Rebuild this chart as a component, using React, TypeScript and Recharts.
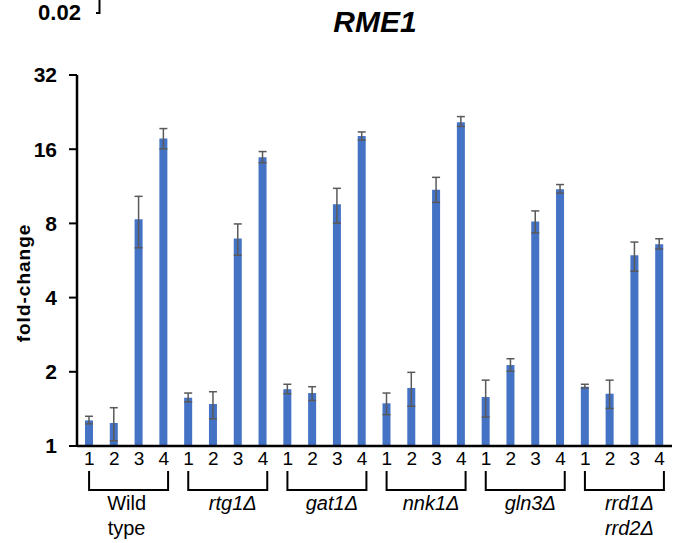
import React from "react";
import { BarChart, Bar, XAxis, YAxis, ErrorBar } from "recharts";

// strains, each measured at 4 time points
const strains = ["Wild type", "rtg1Δ", "gat1Δ", "nnk1Δ", "gln3Δ", "rrd1Δ rrd2Δ"];
const strainLines: string[][] = [
  ["Wild", "type"],
  ["rtg1Δ"],
  ["gat1Δ"],
  ["nnk1Δ"],
  ["gln3Δ"],
  ["rrd1Δ", "rrd2Δ"],
];
const strainItalic = [false, true, true, true, true, true];
const timepoints = ["1", "2", "3", "4"];

// RME1 fold-change (mean)
const foldChange = [
  1.27, 1.24, 8.32, 17.7,
  1.57, 1.48, 6.95, 14.85,
  1.7, 1.64, 9.56, 18.1,
  1.49, 1.72, 10.96, 20.6,
  1.58, 2.13, 8.14, 11.0,
  1.74, 1.63, 5.94, 6.59,
];
// error bar extent below / above the mean
const errLow = [
  0.04, 0.19, 1.95, 1.65,
  0.06, 0.19, 1.01, 0.75,
  0.07, 0.11, 1.54, 0.7,
  0.15, 0.27, 1.22, 0.8,
  0.27, 0.12, 0.82, 0.4,
  0.02, 0.21, 0.82, 0.29,
];
const errHigh = [
  0.05, 0.19, 1.98, 1.7,
  0.07, 0.18, 1.01, 0.8,
  0.08, 0.1, 1.54, 0.7,
  0.15, 0.27, 1.34, 1.1,
  0.27, 0.13, 0.85, 0.5,
  0.04, 0.22, 0.78, 0.34,
];
const yTicks = [1, 2, 4, 8, 16, 32];

const FONT = "Arial, 'Liberation Sans', sans-serif";

const data = foldChange.map((v, i) => ({
  id: i,
  strain: strains[Math.floor(i / 4)],
  tp: timepoints[i % 4],
  value: v,
  err: [errLow[i], errHigh[i]],
}));

function TimeTick(props: any) {
  const { x, y, payload } = props;
  const row = data[payload.value];
  return (
    <text x={x} y={y + 19} textAnchor="middle" fontSize={19} fill="#000" fontFamily={FONT}>
      {row ? row.tp : ""}
    </text>
  );
}

function StrainTick(props: any) {
  const { x, y, payload } = props;
  const idx = strains.indexOf(payload.value);
  if (idx < 0) return null;
  const lines = strainLines[idx];
  const italic = strainItalic[idx];
  const shift = italic ? 7 : 0;
  return (
    <g>
      <path
        d={`M${x - 37.5},${y + 3} V${y + 22} H${x + 41.5} V${y + 3}`}
        stroke="#000"
        strokeWidth={2}
        fill="none"
      />
      {lines.map((t, k) => (
        <text
          key={k}
          x={x + shift}
          y={y + 42 + k * 25}
          textAnchor="middle"
          fontSize={20}
          fontStyle={italic ? "italic" : "normal"}
          fill="#000"
          fontFamily={FONT}
        >
          {t}
        </text>
      ))}
    </g>
  );
}

export default function App() {
  return (
    <div style={{ position: "absolute", left: 0, top: 0, width: 697, height: 543, background: "#fff" }}>
      <BarChart
        width={697}
        height={543}
        data={data}
        margin={{ top: 75, right: 25, bottom: 0, left: 0 }}
      >
        <XAxis
          dataKey="id"
          type="category"
          interval={0}
          height={22}
          tickLine={false}
          tickSize={0}
          tickMargin={0}
          axisLine={{ stroke: "#000", strokeWidth: 2.5 }}
          tick={<TimeTick />}
        />
        <XAxis
          xAxisId="strain"
          dataKey="strain"
          type="category"
          allowDuplicatedCategory={false}
          interval={0}
          height={75}
          axisLine={false}
          tickLine={false}
          tickSize={0}
          tickMargin={0}
          tick={<StrainTick />}
        />
        <YAxis
          type="number"
          scale="log"
          domain={[1, 32]}
          ticks={yTicks}
          allowDataOverflow
          width={77}
          tickSize={8}
          tickMargin={12}
          axisLine={{ stroke: "#000", strokeWidth: 2.5 }}
          tickLine={{ stroke: "#000", strokeWidth: 2 }}
          tick={{ fontSize: 21, fontWeight: "bold", fill: "#000", fontFamily: FONT }}
        />
        <Bar dataKey="value" fill="#4472C4" barSize={8} isAnimationActive={false}>
          <ErrorBar dataKey="err" direction="y" width={4} stroke="#595959" strokeWidth={1.5} />
        </Bar>
      </BarChart>
      <svg
        width={697}
        height={543}
        style={{ position: "absolute", left: 0, top: 0, pointerEvents: "none" }}
      >
        <text x={59.5} y={19.5} textAnchor="middle" fontSize={22} fontWeight="bold" fill="#000" fontFamily={FONT}>
          0.02
        </text>
        <path d="M96,13 H99.5 V0" stroke="#000" strokeWidth={2} fill="none" />
        <text
          x={375}
          y={32}
          textAnchor="middle"
          fontSize={30}
          fontWeight="bold"
          fontStyle="italic"
          fill="#000"
          fontFamily={FONT}
        >
          RME1
        </text>
        <text
          transform="translate(30,283) rotate(-90)"
          textAnchor="middle"
          fontSize={19}
          fontWeight="bold"
          letterSpacing={1}
          fill="#000"
          fontFamily={FONT}
        >
          fold-change
        </text>
      </svg>
    </div>
  );
}
